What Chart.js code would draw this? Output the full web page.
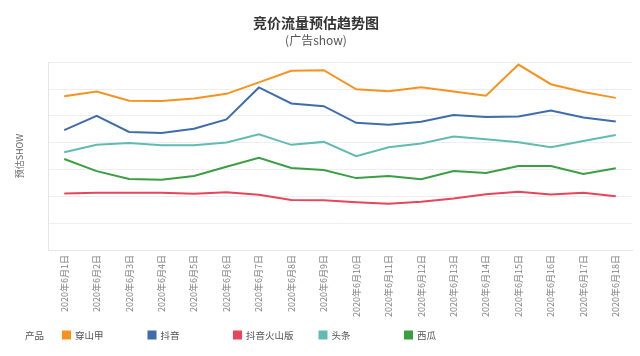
<!DOCTYPE html>
<html>
<head>
<meta charset="utf-8">
<script src="https://cdn.jsdelivr.net/npm/chart.js@4/dist/chart.umd.min.js"></script>
<style>
html,body{margin:0;padding:0;background:#fff;}
#wrap{width:640px;height:356px;position:relative;}
</style>
</head>
<body>
<div id="wrap"><canvas id="c" width="640" height="356"></canvas></div>
<script>
const categories = ['2020年6月1日','2020年6月2日','2020年6月3日','2020年6月4日','2020年6月5日','2020年6月6日','2020年6月7日','2020年6月8日','2020年6月9日','2020年6月10日','2020年6月11日','2020年6月12日','2020年6月13日','2020年6月14日','2020年6月15日','2020年6月16日','2020年6月17日','2020年6月18日'];
const seriesNames = ['穿山甲','抖音','抖音火山版','头条','西瓜'];
const chuanshanjia = [5.73,5.91,5.56,5.55,5.65,5.82,6.25,6.68,6.70,5.99,5.92,6.07,5.91,5.75,6.91,6.18,5.89,5.67];
const douyin       = [4.47,5.00,4.40,4.36,4.52,4.87,6.06,5.46,5.36,4.74,4.67,4.78,5.03,4.96,4.98,5.20,4.94,4.79];
const huoshan      = [2.11,2.13,2.13,2.13,2.10,2.15,2.06,1.86,1.85,1.78,1.72,1.80,1.92,2.08,2.17,2.07,2.13,2.00];
const toutiao      = [3.64,3.92,3.99,3.90,3.90,4.01,4.31,3.92,4.03,3.50,3.83,3.97,4.23,4.13,4.02,3.83,4.06,4.29];
const xigua        = [3.39,2.94,2.65,2.62,2.76,3.10,3.44,3.06,2.98,2.68,2.76,2.64,2.94,2.87,3.13,3.13,2.83,3.05];
const seriesValues = [chuanshanjia, douyin, huoshan, toutiao, xigua];
const colors = ['#f7921e','#3f6dab','#e6465a','#62bbb2','#3b9e43'];
const legendTitle = '产品';
const titleText = '竞价流量预估趋势图';
const subtitleText = '(广告show)';
const yTitle = '预估SHOW';

const CJK = '"Noto Sans CJK SC", "Noto Sans", sans-serif';

const customLegend = {
  id: 'customLegend',
  afterDraw(chart) {
    const ctx = chart.ctx;
    ctx.save();
    ctx.font = '9.5px ' + CJK;
    ctx.textBaseline = 'middle';
    ctx.textAlign = 'left';
    const y = 335;
    ctx.fillStyle = '#555';
    ctx.fillText(legendTitle, 25, y);
    chart.data.datasets.forEach((ds, i) => {
      const x = 62 + 85.5 * i;
      ctx.fillStyle = ds.borderColor;
      ctx.fillRect(x, y - 4.5, 9, 9);
      ctx.fillStyle = '#555';
      ctx.fillText(ds.label, x + 13, y);
    });
    ctx.restore();
  }
};

new Chart(document.getElementById('c'), {
  type: 'line',
  data: {
    labels: categories,
    datasets: seriesNames.map((n, i) => ({
      label: n,
      data: seriesValues[i],
      borderColor: colors[i],
      backgroundColor: colors[i],
      borderWidth: 2,
      pointRadius: 0,
      tension: 0,
      fill: false
    }))
  },
  options: {
    responsive: false,
    animation: false,
    layout: { padding: { left: 0, right: 8, top: 0, bottom: 34 } },
    plugins: {
      legend: { display: false },
      tooltip: { enabled: false },
      title: {
        display: true, text: titleText, color: '#333',
        font: { family: CJK, size: 14, weight: 'bold' },
        padding: { top: 14, bottom: 2 }
      },
      subtitle: {
        display: true, text: subtitleText, color: '#555',
        font: { family: CJK, size: 12 },
        padding: { top: 0, bottom: 15 }
      }
    },
    scales: {
      x: {
        offset: true,
        grid: { display: false, drawTicks: false },
        border: { display: true, color: '#e6e6e6' },
        ticks: {
          maxRotation: 90, minRotation: 90, autoSkip: false, padding: 5,
          color: '#808080', font: { family: CJK, size: 9 }
        },
        afterFit(scale) { scale.height = 72; }
      },
      y: {
        min: 0, max: 7,
        grid: { color: '#eeeeee', drawTicks: false },
        border: { display: true, color: '#e6e6e6' },
        ticks: { display: false, stepSize: 1 },
        title: {
          display: true, text: yTitle, color: '#666',
          font: { family: CJK, size: 9 },
          padding: { top: 14, bottom: 0 }
        },
        afterFit(scale) { scale.width = 48; }
      }
    }
  },
  plugins: [customLegend]
});
</script>
</body>
</html>
